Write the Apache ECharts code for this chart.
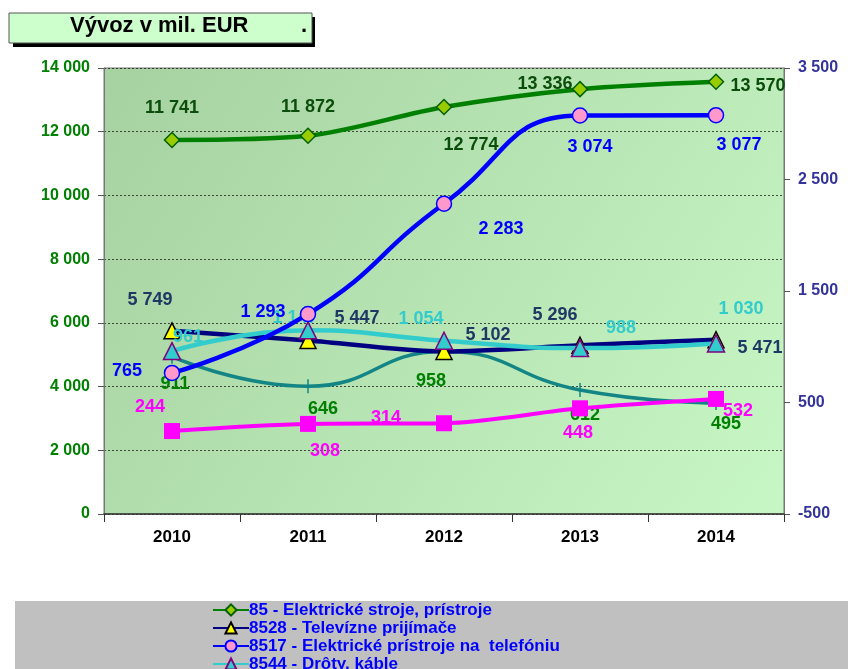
<!DOCTYPE html>
<html>
<head>
    <meta charset="UTF-8">
    <title>Vývoz v mil. EUR</title>
    <script src="https://cdn.jsdelivr.net/npm/echarts/dist/echarts.min.js"></script>
    <style>
        html, body { margin: 0; padding: 0; background: #fff; }
        #chart { width: 848px; height: 669px; }
    </style>
</head>
<body>
    <div id="chart"></div>
    <script>
        // roky
        var years = ['2010', '2011', '2012', '2013', '2014'];

        // hodnoty (ľavá os)
        var stroje = [11741, 11872, 12774, 13336, 13570];
        var televizory = [5749, 5447, 5102, 5296, 5471];
        // hodnoty (pravá os)
        var telefonia = [765, 1293, 2283, 3074, 3077];
        var droty = [961, 1147, 1054, 988, 1030];
        var piata = [911, 646, 958, 612, 495];
        var siesta = [244, 308, 314, 448, 532];

        var names = [
            '85 - Elektrické stroje, prístroje',
            '8528 - Televízne prijímače',
            '8517 - Elektrické prístroje na  telefóniu',
            '8544 - Drôty, káble'
        ];

        // posuny popiskov voči značke [dx, dy]
        var offStroje = [[0, -32], [0, -29], [27, 38], [-35, -5], [42, 4]];
        var offTv = [[-22, -31], [49, -22], [44, -16], [-25, -30], [44, 8]];
        var offTel = [[-45, -2], [-45, -2], [57, 25], [10, 32], [23, 30]];
        var offDroty = [[16, -14], [-13, -12], [-23, -22], [41, -20], [25, -34]];
        var offPiata = [[3, 27], [15, 23], [-13, 30], [5, 25], [10, 21]];
        var offSiesta = [[-22, -24], [17, 27], [-58, -5], [-2, 25], [22, 12]];

        function fmt(v) {
            return String(v).replace(/\B(?=(\d{3})+(?!\d))/g, ' ');
        }

        function points(values, offsets, color) {
            return values.map(function (v, i) {
                return {
                    value: v,
                    label: {
                        show: true,
                        position: 'inside',
                        offset: offsets[i],
                        color: color,
                        fontSize: 18,
                        fontWeight: 'bold',
                        fontFamily: 'Liberation Sans, Arial',
                        formatter: function (p) { return fmt(p.value); }
                    }
                };
            });
        }

        var chart = echarts.init(document.getElementById('chart'));

        var option = {
            animation: false,
            backgroundColor: '#ffffff',
            textStyle: { fontFamily: 'Liberation Sans, Arial' },
            graphic: [
                // tieň a rámček nadpisu
                { type: 'rect', shape: { x: 13, y: 17, width: 302, height: 30 }, style: { fill: '#000' }, z: 0 },
                { type: 'rect', shape: { x: 9, y: 13, width: 303, height: 30 }, style: { fill: '#ccffcc', stroke: '#555', lineWidth: 1 }, z: 1 },
                { type: 'text', x: 70, y: 15, style: { text: 'Vývoz v mil. EUR', font: 'bold 22px Liberation Sans, Arial', fill: '#000' }, z: 2 },
                { type: 'text', x: 301, y: 15, style: { text: '.', font: 'bold 22px Liberation Sans, Arial', fill: '#000' }, z: 2 },
                // sivé pole legendy
                { type: 'rect', shape: { x: 15, y: 601, width: 833, height: 70 }, style: { fill: '#c0c0c0' }, z: 0 }
            ],
            legend: {
                data: names,
                orient: 'vertical',
                left: 212,
                top: 601,
                height: 200,
                padding: 0,
                itemGap: 0,
                itemWidth: 36,
                itemHeight: 14,
                textStyle: { color: '#0000ff', fontSize: 17, fontWeight: 'bold', padding: [0, 0, 0, -5], lineHeight: 18 }
            },
            grid: {
                left: 104,
                right: 64,
                top: 68,
                bottom: 155,
                show: true,
                borderColor: '#777',
                borderWidth: 1,
                backgroundColor: new echarts.graphic.LinearGradient(0, 0, 1, 1, [
                    { offset: 0, color: '#a6d1a0' },
                    { offset: 1, color: '#c8f7c6' }
                ])
            },
            xAxis: {
                type: 'category',
                data: years,
                boundaryGap: true,
                axisLine: { lineStyle: { color: '#333', width: 1.5 } },
                axisTick: { show: true, length: 8, inside: false, lineStyle: { color: '#333' } },
                axisLabel: { color: '#000', fontSize: 17, fontWeight: 'bold', margin: 15 }
            },
            yAxis: [
                {
                    type: 'value',
                    min: 0,
                    max: 14000,
                    interval: 2000,
                    axisLine: { show: true, lineStyle: { color: '#777' } },
                    axisTick: { show: true, length: 6, lineStyle: { color: '#555' } },
                    splitLine: { show: true, lineStyle: { color: '#222', type: [2, 2], width: 0.8 } },
                    axisLabel: {
                        color: '#008000', fontSize: 16, fontWeight: 'bold', margin: 14,
                        formatter: function (v) { return fmt(v); }
                    }
                },
                {
                    type: 'value',
                    min: -500,
                    max: 3500,
                    interval: 1000,
                    position: 'right',
                    axisLine: { show: true, lineStyle: { color: '#777' } },
                    axisTick: { show: true, length: 6, lineStyle: { color: '#555' } },
                    splitLine: { show: false },
                    axisLabel: {
                        color: '#333399', fontSize: 16, fontWeight: 'bold', margin: 14,
                        formatter: function (v) { return fmt(v); }
                    }
                }
            ],
            series: [
                {
                    name: 'Piata',
                    type: 'line',
                    yAxisIndex: 1,
                    smooth: 0.5,
                    data: points(piata, offPiata, '#008000'),
                    lineStyle: { color: '#138585', width: 3.5 },
                    itemStyle: { color: '#138585' },
                    symbol: 'rect',
                    symbolSize: [1.5, 14],
                    z: 2
                },
                {
                    name: 'Siesta',
                    type: 'line',
                    yAxisIndex: 1,
                    smooth: 0.3,
                    data: points(siesta, offSiesta, '#ff00ff'),
                    lineStyle: { color: '#ff00ff', width: 4 },
                    itemStyle: { color: '#ff00ff' },
                    symbol: 'rect',
                    symbolSize: 16,
                    z: 3
                },
                {
                    name: names[3],
                    type: 'line',
                    yAxisIndex: 1,
                    smooth: 0.5,
                    data: points(droty, offDroty, '#33cccc'),
                    lineStyle: { color: '#33cccc', width: 4.5 },
                    itemStyle: { color: '#33cccc', borderColor: '#800080', borderWidth: 1.5 },
                    symbol: 'triangle',
                    symbolSize: 17,
                    z: 5
                },
                {
                    name: names[1],
                    type: 'line',
                    yAxisIndex: 0,
                    smooth: 0.3,
                    data: points(televizory, offTv, '#1f3864'),
                    lineStyle: { color: '#000080', width: 4.5 },
                    itemStyle: { color: '#ffff00', borderColor: '#000', borderWidth: 1.5 },
                    symbol: 'triangle',
                    symbolSize: 16,
                    z: 4
                },
                {
                    name: names[2],
                    type: 'line',
                    yAxisIndex: 1,
                    smooth: 0.5,
                    data: points(telefonia, offTel, '#0000ff'),
                    lineStyle: { color: '#0000ff', width: 4.5 },
                    itemStyle: { color: '#ff99cc', borderColor: '#0000ff', borderWidth: 1.5 },
                    symbol: 'circle',
                    symbolSize: 15,
                    z: 6
                },
                {
                    name: names[0],
                    type: 'line',
                    yAxisIndex: 0,
                    smooth: 0.3,
                    data: points(stroje, offStroje, '#0b4d0b'),
                    lineStyle: { color: '#008000', width: 4.5 },
                    itemStyle: { color: '#99cc00', borderColor: '#006000', borderWidth: 1.5 },
                    symbol: 'diamond',
                    symbolSize: 15,
                    z: 7
                }
            ]
        };

        chart.setOption(option);
    </script>
</body>
</html>
